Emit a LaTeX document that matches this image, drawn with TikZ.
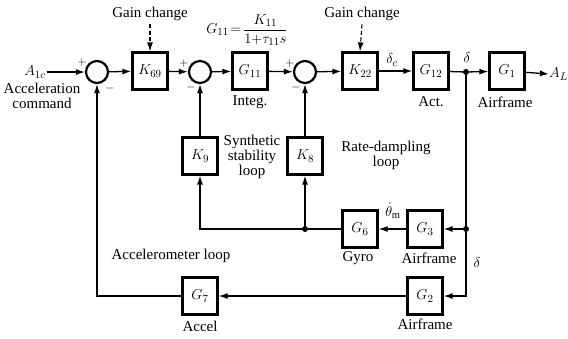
\documentclass[tikz,border=0pt]{standalone}
\usepackage{fontspec}
\setmainfont{Liberation Serif}
\usetikzlibrary{arrows.meta,calc}
\begin{document}
\begin{tikzpicture}[x=1pt,y=-1pt,
  font=\fontsize{15}{15}\selectfont,
  blk/.style={draw,line width=2.2pt,minimum width=35pt,minimum height=37pt,inner sep=0pt},
  sumc/.style={draw,circle,line width=2.2pt,minimum size=22pt,inner sep=0pt},
  con/.style={line width=1.3pt,-{Latex[length=9pt,width=6pt]}},
  ln/.style={line width=1.3pt},
  dot/.style={circle,fill,inner sep=0pt,minimum size=6pt},
  dsh/.style={line width=1.1pt,dash pattern=on 4pt off 2.5pt},
  sgn/.style={inner sep=0pt,font=\fontsize{13}{13}\selectfont}
]
\useasboundingbox (0,0) rectangle (568,338);

% main forward path
\node[sumc] (s1) at (97,72) {};
\node[blk] (k69) at (150,71) {$K_{69}$};
\node[sumc] (s2) at (200,72) {};
\node[blk] (g11) at (250,71) {$G_{11}$};
\node[sumc] (s3) at (305,72) {};
\node[blk] (k22) at (360,71) {$K_{22}$};
\node[blk] (g12) at (431,71) {$G_{12}$};
\node[dot] (d1) at (466,72) {};
\node[blk] (g1) at (507,71) {$G_1$};
\node[anchor=west,inner sep=0pt] (al) at (549,74) {$A_L$};
\node[inner sep=1pt] (a1c) at (35,72) {$A_{1c}$};
\node[align=center] (ac) at (42,96) {Acceleration\\command};

% feedback blocks
\node[blk] (k9) at (200,156) {$K_9$};
\node[blk] (k8) at (305,156) {$K_8$};
\node[blk] (g6) at (360,229) {$G_6$};
\node[blk] (g3) at (425,229) {$G_3$};
\node[dot] (d2) at (466,229) {};
\node[dot] (d3) at (305,229) {};
\coordinate (c1) at (200,229);
\node[blk] (g7) at (200,296) {$G_7$};
\node[blk] (g2) at (425,296) {$G_2$};
\coordinate (c2) at (466,296);
\coordinate (c3) at (97,296);

% texts
\node (gc1) at (150,14) {Gain change};
\node (gc2) at (362,14) {Gain change};
\node (f) at (247,30) {$G_{11}\!=\!\displaystyle\frac{K_{11}}{1{+}\tau_{11}s}$};
\node[inner sep=0pt] (dc) at (392,60) {$\delta_c$};
\node[inner sep=0pt] (dl) at (467,57) {$\delta$};
\node[inner sep=0pt] (dl2) at (477,262) {$\delta$};
\node[inner sep=0pt] (th) at (393,211) {$\dot\theta_{\mathrm{m}}$};
\node (integ) at (250,102) {Integ.};
\node (act) at (431,102) {Act.};
\node (af1) at (505,102) {Airframe};
\node[align=center] (syn) at (252,157) {Synthetic\\stability\\loop};
\node[align=center] (rate) at (386,155) {Rate-dampling\\loop};
\node (gyro) at (358,258) {Gyro};
\node (af2) at (429,258) {Airframe};
\node (accl) at (171,256) {Accelerometer loop};
\node (accel) at (200,326) {Accel};
\node (af3) at (425,324) {Airframe};

% signs
\node[sgn] at (82,62) {$+$};
\node[sgn] at (110,88) {$-$};
\node[sgn] at (184,63) {$+$};
\node[sgn] at (191,87) {$-$};
\node[sgn] at (290,63) {$+$};
\node[sgn] at (296,87) {$-$};

% connectors forward
\draw[con] (a1c.east) -- (s1.west);
\draw[con] (s1) -- (k69);
\draw[con] (k69) -- (s2);
\draw[con] (s2) -- (g11);
\draw[con] (g11) -- (s3);
\draw[con] (s3) -- (k22);
\draw[con] (k22) -- (g12);
\draw[ln] (g12) -- (d1);
\draw[con] (d1) -- (g1);
\draw[con] (g1) -- (al.west);
\draw[con,dsh] (gc1.south) -- (k69.north);
\draw[con,dsh] (gc2.south) -- (k22.north);

% feedback
\draw[ln] (d1) -- (d2);
\draw[con] (d2) -- (g3);
\draw[con] (d2) -- (c2) -- (g2);
\draw[con] (g3) -- (g6);
\draw[ln] (g6) -- (d3);
\draw[con] (d3) -- (c1) -- (k9);
\draw[con] (d3) -- (k8);
\draw[con] (k9) -- (s2);
\draw[con] (k8) -- (s3);
\draw[con] (g2) -- (g7);
\draw[con] (g7) -- (c3) -- (s1);
\end{tikzpicture}
\end{document}
